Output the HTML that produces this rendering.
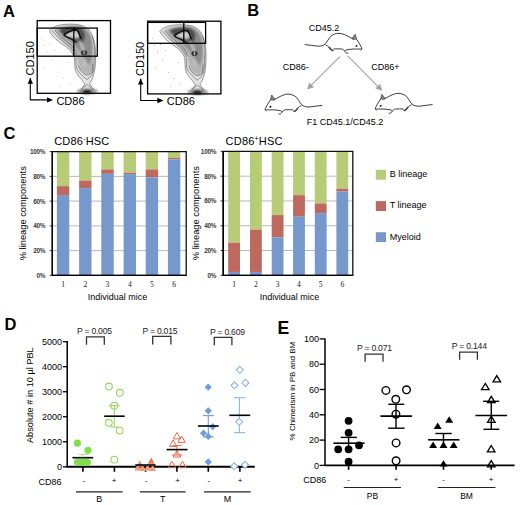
<!DOCTYPE html><html><head><meta charset="utf-8"><style>html,body{margin:0;padding:0;background:#fff;overflow:hidden;width:520px;height:505px;}svg{display:block;}</style></head><body><svg width="520" height="505" viewBox="0 0 520 505"><defs><filter id="blur1" x="-20%" y="-20%" width="140%" height="140%"><feGaussianBlur stdDeviation="0.9"/></filter><filter id="blur05" x="-50%" y="-50%" width="200%" height="200%"><feGaussianBlur stdDeviation="0.5"/></filter></defs><text x="3" y="16.6" font-size="16.5" text-anchor="start" font-weight="bold" fill="#000" font-family='"Liberation Sans", sans-serif' >A</text>
<text x="247.3" y="16.2" font-size="16.5" text-anchor="start" font-weight="bold" fill="#000" font-family='"Liberation Sans", sans-serif' >B</text>
<text x="3.4" y="139.2" font-size="16.5" text-anchor="start" font-weight="bold" fill="#000" font-family='"Liberation Sans", sans-serif' >C</text>
<text x="4.6" y="330.4" font-size="16.5" text-anchor="start" font-weight="bold" fill="#000" font-family='"Liberation Sans", sans-serif' >D</text>
<text x="277.6" y="333.6" font-size="17.5" text-anchor="start" font-weight="bold" fill="#000" font-family='"Liberation Sans", sans-serif' >E</text>
<g transform="translate(0.0,0.0)"><g filter="url(#blur1)"><path d="M49.5,31 C52,27 58,25 66,24.3 C76,23.8 84,25 89,30 C93,35 95.5,44 95.6,54 C95.5,60 95.3,63.5 95.1,66.8 C94.8,69.5 94.3,72 93.7,74.1 C93.1,76 92.5,78 91.9,79.6 C91.2,81 90.5,82.3 89.6,83.2 C90.5,85 91.6,87 94,89.5 L97,92.8 L76,92.8 L81.9,88.7 C83,87 84,85.5 85,84.1 C84.6,83.6 84.2,83 83.7,82.3 C83,81.2 82,80 80.9,78.6 C79.8,77.2 78.5,75.8 77.3,74.1 C76.5,73 76,72 75.5,70.4 C74.8,67 74.6,62 74.4,57 C72,51 67,47 62,44 C57,40.5 52,36 49.5,31 Z" fill="#e2e2e2"/><path d="M54,29.5 C58,26 66,25 76,25 C83,25.5 87.5,28.5 90.5,33 C93,39 94,47 94,56 C94,61 94,65 93.5,69 C92.5,72 91,74 88.5,75 C86,74.5 83.5,73 81.5,71 C79.5,68.5 78,64 77,59 C76,56 75,54 73.5,52 C70,48 66,44 61,39.5 C58,36 55.5,32.5 54,29.5 Z" fill="#b4b4b4"/><path d="M58,30 C62,26.5 72,25.6 79,26.3 C86,27.8 89.8,32 91.3,37 C92.8,43 92.8,51 91.8,57 C91,61 90,63.5 89,65 C87,62 85,59 83,56 C80,51 75,45 70,41 C65,37.5 60.5,34 58,30 Z" fill="#8c8c8c"/><path d="M59,30 C63,27 72,26.2 78,27 C82,28 84.5,31 85,35 C85,39 83.5,42 81.5,43.5 C76,41.5 69,38.5 62,33.5 C60.5,32.5 59.5,31.2 59,30 Z" fill="#4c4c4c"/><path d="M65.5,34.6 L70,32.3 L74,30.8 L77.2,31.5 L79,34 L79.6,37.6 L75.5,38.2 L71,37.5 L67,36.5 Z" fill="#d2d2d2"/><path d="M80,40.5 C82,44 83.5,47 84.3,50.5 L83,51 C82,47.5 80.5,44 78.8,41 Z" fill="#e0e0e0"/><path d="M84.3,57 L85,66 L83.8,66 Z" fill="#dedede"/><ellipse cx="87.3" cy="91.2" rx="10.5" ry="3" fill="#999"/><ellipse cx="87" cy="91.6" rx="4.8" ry="2" fill="#0a0a0a"/></g><g fill="none" stroke="#5a5a5a" stroke-width="0.6"><path d="M49.5,31 C52,27 58,25 66,24.3 C76,23.8 84,25 89,30 C93,35 95.5,44 95.6,54 C95.5,60 95.3,63.5 95.1,66.8 C94.8,69.5 94.3,72 93.7,74.1 C93.1,76 92.5,78 91.9,79.6 C91.2,81 90.5,82.3 89.6,83.2 C90.5,85 91.6,87 93.5,89.5"/><path d="M49.5,31 C52,36 57,40.5 62,44 C67,47 72,51 74.4,57 C74.6,62 74.8,67 75.5,70.4 C76,72 76.5,73 77.3,74.1 C78.5,75.8 79.8,77.2 80.9,78.6 C82,80 83,81.2 83.7,82.3 C84.2,83 84.6,83.6 85,84.1 C84,85.5 83,87 81.5,89"/><path d="M52,30.5 C55.5,35.5 60.5,39.5 65.5,43.5 C70.5,47 74,51 75.5,56.5"/><path d="M54.5,30 C58,34.5 63,38.5 68,42.5 C72.5,46 75.5,50 77,55"/><path d="M75.9,57.7 C76,61 76.1,65 76.4,67.7 C77.5,70 78.5,71.6 80,73.2 C81.2,74.6 82.5,75.8 83.7,76.8 C84.8,77.8 85.9,78.7 86.9,79.6 C88.5,78.5 89.8,77.2 91,75.9 C92,74.5 92.7,73 93.2,71.3 C93.8,68 94.1,65 94.2,62.2 C94.3,59 94.3,57 94.2,55"/><path d="M78.2,65 C79,67 79.8,68.8 80.9,70.4 C82,71.9 83.2,73.1 84.6,74.1 C85.8,74.8 87,75.1 88.2,75 C89.6,74.4 90.8,73.5 91.9,72.3 C92.5,70 92.8,67 92.8,64"/><path d="M80.5,90 C82.5,88 84.8,86 87.2,84.6 C89.3,86 91.3,88 93.5,90"/><path d="M92.3,36 C94.2,42 94.8,48 94.6,56"/></g><ellipse cx="84.1" cy="52.8" rx="3.1" ry="2.5" fill="#333" filter="url(#blur05)"/><ellipse cx="84.1" cy="52.6" rx="0.7" ry="2.3" fill="#bbb" filter="url(#blur05)"/><path d="M63.7,34.7 C66,33.2 69,31.5 73.8,29.8 C75.5,29.8 77,30 77.8,30.8 C79,32.5 80,35 80.8,38.8" fill="none" stroke="#0a0a0a" stroke-width="1.5" stroke-linejoin="round"/><path d="M63.7,34.7 C65,36.8 68,37.8 70.5,38.5 C72.5,39.5 74,41 76.6,42.3" fill="none" stroke="#111" stroke-width="1.3"/><g fill="#aaa"><circle cx="44" cy="45" r="0.5"/><circle cx="47" cy="52" r="0.5"/><circle cx="52" cy="60" r="0.5"/><circle cx="58" cy="72" r="0.5"/><circle cx="63" cy="78" r="0.5"/><circle cx="45" cy="68" r="0.5"/><circle cx="55" cy="50" r="0.5"/><circle cx="68" cy="62" r="0.5"/><circle cx="70" cy="84" r="0.5"/><circle cx="60" cy="86" r="0.5"/><circle cx="42" cy="38" r="0.5"/><circle cx="50" cy="44" r="0.5"/></g></g>
<rect x="37.2" y="20.6" width="73.3" height="72.7" fill="none" stroke="#000" stroke-width="1.3"/>
<rect x="37.2" y="28.1" width="60.099999999999994" height="28.1" fill="none" stroke="#000" stroke-width="1.3"/>
<line x1="73.8" y1="28.1" x2="73.8" y2="56.2" stroke="#000" stroke-width="1.3"/>
<path d="M30.300000000000004,100.30000000000001 L30.300000000000004,78.1 M30.300000000000004,99.9 L47.7,99.9" fill="none" stroke="#000" stroke-width="1.1"/>
<path d="M27.600000000000005,83.80000000000001 L30.300000000000004,77.9 L33.00000000000001,83.80000000000001 Z" fill="#000"/>
<path d="M47.0,97.19999999999999 L53.1,99.9 L47.0,102.6 Z" fill="#000"/>
<text x="56.400000000000006" y="104.80000000000001" font-size="11" text-anchor="start" font-weight="normal" fill="#000" font-family='"Liberation Sans", sans-serif' >CD86</text>
<text x="0" y="0" font-size="11" font-family='"Liberation Sans", sans-serif' transform="translate(34.0,75.4) rotate(-90)">CD150</text>
<g transform="translate(110.39999999999999,0.5999999999999979)"><g filter="url(#blur1)"><path d="M49.5,31 C52,27 58,25 66,24.3 C76,23.8 84,25 89,30 C93,35 95.5,44 95.6,54 C95.5,60 95.3,63.5 95.1,66.8 C94.8,69.5 94.3,72 93.7,74.1 C93.1,76 92.5,78 91.9,79.6 C91.2,81 90.5,82.3 89.6,83.2 C90.5,85 91.6,87 94,89.5 L97,92.8 L76,92.8 L81.9,88.7 C83,87 84,85.5 85,84.1 C84.6,83.6 84.2,83 83.7,82.3 C83,81.2 82,80 80.9,78.6 C79.8,77.2 78.5,75.8 77.3,74.1 C76.5,73 76,72 75.5,70.4 C74.8,67 74.6,62 74.4,57 C72,51 67,47 62,44 C57,40.5 52,36 49.5,31 Z" fill="#e2e2e2"/><path d="M54,29.5 C58,26 66,25 76,25 C83,25.5 87.5,28.5 90.5,33 C93,39 94,47 94,56 C94,61 94,65 93.5,69 C92.5,72 91,74 88.5,75 C86,74.5 83.5,73 81.5,71 C79.5,68.5 78,64 77,59 C76,56 75,54 73.5,52 C70,48 66,44 61,39.5 C58,36 55.5,32.5 54,29.5 Z" fill="#b4b4b4"/><path d="M58,30 C62,26.5 72,25.6 79,26.3 C86,27.8 89.8,32 91.3,37 C92.8,43 92.8,51 91.8,57 C91,61 90,63.5 89,65 C87,62 85,59 83,56 C80,51 75,45 70,41 C65,37.5 60.5,34 58,30 Z" fill="#8c8c8c"/><path d="M59,30 C63,27 72,26.2 78,27 C82,28 84.5,31 85,35 C85,39 83.5,42 81.5,43.5 C76,41.5 69,38.5 62,33.5 C60.5,32.5 59.5,31.2 59,30 Z" fill="#4c4c4c"/><path d="M65.5,34.6 L70,32.3 L74,30.8 L77.2,31.5 L79,34 L79.6,37.6 L75.5,38.2 L71,37.5 L67,36.5 Z" fill="#d2d2d2"/><path d="M80,40.5 C82,44 83.5,47 84.3,50.5 L83,51 C82,47.5 80.5,44 78.8,41 Z" fill="#e0e0e0"/><path d="M84.3,57 L85,66 L83.8,66 Z" fill="#dedede"/><ellipse cx="87.3" cy="91.2" rx="10.5" ry="3" fill="#999"/><ellipse cx="87" cy="91.6" rx="4.8" ry="2" fill="#0a0a0a"/></g><g fill="none" stroke="#5a5a5a" stroke-width="0.6"><path d="M49.5,31 C52,27 58,25 66,24.3 C76,23.8 84,25 89,30 C93,35 95.5,44 95.6,54 C95.5,60 95.3,63.5 95.1,66.8 C94.8,69.5 94.3,72 93.7,74.1 C93.1,76 92.5,78 91.9,79.6 C91.2,81 90.5,82.3 89.6,83.2 C90.5,85 91.6,87 93.5,89.5"/><path d="M49.5,31 C52,36 57,40.5 62,44 C67,47 72,51 74.4,57 C74.6,62 74.8,67 75.5,70.4 C76,72 76.5,73 77.3,74.1 C78.5,75.8 79.8,77.2 80.9,78.6 C82,80 83,81.2 83.7,82.3 C84.2,83 84.6,83.6 85,84.1 C84,85.5 83,87 81.5,89"/><path d="M52,30.5 C55.5,35.5 60.5,39.5 65.5,43.5 C70.5,47 74,51 75.5,56.5"/><path d="M54.5,30 C58,34.5 63,38.5 68,42.5 C72.5,46 75.5,50 77,55"/><path d="M75.9,57.7 C76,61 76.1,65 76.4,67.7 C77.5,70 78.5,71.6 80,73.2 C81.2,74.6 82.5,75.8 83.7,76.8 C84.8,77.8 85.9,78.7 86.9,79.6 C88.5,78.5 89.8,77.2 91,75.9 C92,74.5 92.7,73 93.2,71.3 C93.8,68 94.1,65 94.2,62.2 C94.3,59 94.3,57 94.2,55"/><path d="M78.2,65 C79,67 79.8,68.8 80.9,70.4 C82,71.9 83.2,73.1 84.6,74.1 C85.8,74.8 87,75.1 88.2,75 C89.6,74.4 90.8,73.5 91.9,72.3 C92.5,70 92.8,67 92.8,64"/><path d="M80.5,90 C82.5,88 84.8,86 87.2,84.6 C89.3,86 91.3,88 93.5,90"/><path d="M92.3,36 C94.2,42 94.8,48 94.6,56"/></g><ellipse cx="84.1" cy="52.8" rx="3.1" ry="2.5" fill="#333" filter="url(#blur05)"/><ellipse cx="84.1" cy="52.6" rx="0.7" ry="2.3" fill="#bbb" filter="url(#blur05)"/><path d="M63.7,34.7 C66,33.2 69,31.5 73.8,29.8 C75.5,29.8 77,30 77.8,30.8 C79,32.5 80,35 80.8,38.8" fill="none" stroke="#0a0a0a" stroke-width="1.5" stroke-linejoin="round"/><path d="M63.7,34.7 C65,36.8 68,37.8 70.5,38.5 C72.5,39.5 74,41 76.6,42.3" fill="none" stroke="#111" stroke-width="1.3"/><g fill="#aaa"><circle cx="44" cy="45" r="0.5"/><circle cx="47" cy="52" r="0.5"/><circle cx="52" cy="60" r="0.5"/><circle cx="58" cy="72" r="0.5"/><circle cx="63" cy="78" r="0.5"/><circle cx="45" cy="68" r="0.5"/><circle cx="55" cy="50" r="0.5"/><circle cx="68" cy="62" r="0.5"/><circle cx="70" cy="84" r="0.5"/><circle cx="60" cy="86" r="0.5"/><circle cx="42" cy="38" r="0.5"/><circle cx="50" cy="44" r="0.5"/></g></g>
<rect x="147.6" y="21.2" width="73.3" height="72.7" fill="none" stroke="#000" stroke-width="1.3"/>
<rect x="147.6" y="22.4" width="58.0" height="20.9" fill="none" stroke="#000" stroke-width="1.3"/>
<line x1="183.8" y1="22.4" x2="183.8" y2="43.3" stroke="#000" stroke-width="1.3"/>
<path d="M140.7,100.9 L140.7,78.7 M140.7,100.5 L158.1,100.5" fill="none" stroke="#000" stroke-width="1.1"/>
<path d="M138.0,84.4 L140.7,78.5 L143.39999999999998,84.4 Z" fill="#000"/>
<path d="M157.4,97.8 L163.5,100.5 L157.4,103.2 Z" fill="#000"/>
<text x="166.79999999999998" y="105.4" font-size="11" text-anchor="start" font-weight="normal" fill="#000" font-family='"Liberation Sans", sans-serif' >CD86</text>
<text x="0" y="0" font-size="11" font-family='"Liberation Sans", sans-serif' transform="translate(144.4,76.0) rotate(-90)">CD150</text>
<text x="308.7" y="30.8" font-size="9" text-anchor="start" font-weight="normal" fill="#000" font-family='"Liberation Sans", sans-serif' >CD45.2</text>
<text x="282.7" y="69.8" font-size="9" text-anchor="start" font-weight="normal" fill="#000" font-family='"Liberation Sans", sans-serif' >CD86-</text>
<text x="371.3" y="69.8" font-size="9" text-anchor="start" font-weight="normal" fill="#000" font-family='"Liberation Sans", sans-serif' >CD86+</text>
<text x="306.7" y="125.0" font-size="9" text-anchor="start" font-weight="normal" fill="#000" font-family='"Liberation Sans", sans-serif' >F1 CD45.1/CD45.2</text>
<g stroke="#a2a2a2" stroke-width="1.1" fill="none"><line x1="339.8" y1="56.7" x2="309.5" y2="86.8"/><line x1="347.7" y1="55.8" x2="379.8" y2="88.3"/></g>
<path d="M307.00,89.40 L309.20,82.40 L314.00,87.22 Z" fill="#a2a2a2"/>
<path d="M382.30,90.80 L375.31,88.57 L380.15,83.79 Z" fill="#a2a2a2"/>
<g transform=""><path d="M305,44.6 C309,45 314,45.8 318,46.2 C321,46.3 323.5,45.5 325.5,43.8 C327.5,41.5 328.5,38.5 330.5,36.5 C333,34.3 336,33.3 339,33.3 C342.5,33.5 346,35 349.5,37.2 C350.8,37.9 351.8,38.3 352.8,38.4 M356,38.4 C357.5,40.5 359.5,43.5 360.9,46.4 C361.5,47.5 361.9,48.4 361.8,49 C360,49.2 357.5,48.9 354.3,49 C351.5,49.1 349,49.4 346.3,49.9 C345,50.3 344.5,51 345.5,52.3 C346.3,53.2 347.2,53.6 348.1,53.2 M344.5,50.8 C343.5,49.8 342.5,49.2 341.9,49 C339,48.8 336,48.8 333.9,49 M326,45 C327,45.4 328,46.2 328.6,46.8 C329.5,48 330.3,49.2 331,50 C331.8,50.8 332.8,51 333.5,50.5" fill="none" stroke="#1a1a1a" stroke-width="0.85" stroke-linecap="round" stroke-linejoin="round"/><circle cx="356.5" cy="45.9" r="0.95" fill="#000"/><path d="M351.8,38.9 L355.2,34.2 L356.4,38.6 C355,39.6 353.2,39.6 351.8,38.9 Z" fill="#888" stroke="#222" stroke-width="0.6"/><path d="M329,47 C330,48.5 331,50 332.8,50.6" stroke="#444" stroke-width="1.5" fill="none"/><path d="M361.8,49 C361.5,49.8 361,50.2 360.3,50.3" stroke="#333" stroke-width="0.6" fill="none"/></g>
<g transform="translate(626.9,60.8) scale(-1,1)"><path d="M305,44.6 C309,45 314,45.8 318,46.2 C321,46.3 323.5,45.5 325.5,43.8 C327.5,41.5 328.5,38.5 330.5,36.5 C333,34.3 336,33.3 339,33.3 C342.5,33.5 346,35 349.5,37.2 C350.8,37.9 351.8,38.3 352.8,38.4 M356,38.4 C357.5,40.5 359.5,43.5 360.9,46.4 C361.5,47.5 361.9,48.4 361.8,49 C360,49.2 357.5,48.9 354.3,49 C351.5,49.1 349,49.4 346.3,49.9 C345,50.3 344.5,51 345.5,52.3 C346.3,53.2 347.2,53.6 348.1,53.2 M344.5,50.8 C343.5,49.8 342.5,49.2 341.9,49 C339,48.8 336,48.8 333.9,49 M326,45 C327,45.4 328,46.2 328.6,46.8 C329.5,48 330.3,49.2 331,50 C331.8,50.8 332.8,51 333.5,50.5" fill="none" stroke="#1a1a1a" stroke-width="0.85" stroke-linecap="round" stroke-linejoin="round"/><circle cx="356.5" cy="45.9" r="0.95" fill="#000"/><path d="M351.8,38.9 L355.2,34.2 L356.4,38.6 C355,39.6 353.2,39.6 351.8,38.9 Z" fill="#888" stroke="#222" stroke-width="0.6"/><path d="M329,47 C330,48.5 331,50 332.8,50.6" stroke="#444" stroke-width="1.5" fill="none"/><path d="M361.8,49 C361.5,49.8 361,50.2 360.3,50.3" stroke="#333" stroke-width="0.6" fill="none"/></g>
<g transform="translate(737.1,60.0) scale(-1,1)"><path d="M305,44.6 C309,45 314,45.8 318,46.2 C321,46.3 323.5,45.5 325.5,43.8 C327.5,41.5 328.5,38.5 330.5,36.5 C333,34.3 336,33.3 339,33.3 C342.5,33.5 346,35 349.5,37.2 C350.8,37.9 351.8,38.3 352.8,38.4 M356,38.4 C357.5,40.5 359.5,43.5 360.9,46.4 C361.5,47.5 361.9,48.4 361.8,49 C360,49.2 357.5,48.9 354.3,49 C351.5,49.1 349,49.4 346.3,49.9 C345,50.3 344.5,51 345.5,52.3 C346.3,53.2 347.2,53.6 348.1,53.2 M344.5,50.8 C343.5,49.8 342.5,49.2 341.9,49 C339,48.8 336,48.8 333.9,49 M326,45 C327,45.4 328,46.2 328.6,46.8 C329.5,48 330.3,49.2 331,50 C331.8,50.8 332.8,51 333.5,50.5" fill="none" stroke="#1a1a1a" stroke-width="0.85" stroke-linecap="round" stroke-linejoin="round"/><circle cx="356.5" cy="45.9" r="0.95" fill="#000"/><path d="M351.8,38.9 L355.2,34.2 L356.4,38.6 C355,39.6 353.2,39.6 351.8,38.9 Z" fill="#888" stroke="#222" stroke-width="0.6"/><path d="M329,47 C330,48.5 331,50 332.8,50.6" stroke="#444" stroke-width="1.5" fill="none"/><path d="M361.8,49 C361.5,49.8 361,50.2 360.3,50.3" stroke="#333" stroke-width="0.6" fill="none"/></g>
<line x1="52.3" y1="250.64" x2="186.2" y2="250.64" stroke="#a6a6a6" stroke-width="0.8"/>
<line x1="52.3" y1="225.88" x2="186.2" y2="225.88" stroke="#a6a6a6" stroke-width="0.8"/>
<line x1="52.3" y1="201.12" x2="186.2" y2="201.12" stroke="#a6a6a6" stroke-width="0.8"/>
<line x1="52.3" y1="176.36" x2="186.2" y2="176.36" stroke="#a6a6a6" stroke-width="0.8"/>
<rect x="56.9" y="151.6" width="12.4" height="34.54" fill="#b8cb77"/>
<rect x="56.9" y="186.14" width="12.4" height="8.91" fill="#bd695f"/>
<rect x="56.9" y="195.05" width="12.4" height="80.35" fill="#7698cc"/>
<text x="63.1" y="287.29999999999995" font-size="7.6" text-anchor="middle" font-weight="normal" fill="#222" font-family='"Liberation Serif", serif' >1</text>
<rect x="79.1" y="151.6" width="12.4" height="28.97" fill="#b8cb77"/>
<rect x="79.1" y="180.57" width="12.4" height="7.55" fill="#bd695f"/>
<rect x="79.1" y="188.12" width="12.4" height="87.28" fill="#7698cc"/>
<text x="85.3" y="287.29999999999995" font-size="7.6" text-anchor="middle" font-weight="normal" fill="#222" font-family='"Liberation Serif", serif' >2</text>
<rect x="101.3" y="151.6" width="12.4" height="17.83" fill="#b8cb77"/>
<rect x="101.3" y="169.43" width="12.4" height="4.46" fill="#bd695f"/>
<rect x="101.3" y="173.88" width="12.4" height="101.52" fill="#7698cc"/>
<text x="107.5" y="287.29999999999995" font-size="7.6" text-anchor="middle" font-weight="normal" fill="#222" font-family='"Liberation Serif", serif' >3</text>
<rect x="123.6" y="151.6" width="12.4" height="21.17" fill="#b8cb77"/>
<rect x="123.6" y="172.77" width="12.4" height="1.36" fill="#bd695f"/>
<rect x="123.6" y="174.13" width="12.4" height="101.27" fill="#7698cc"/>
<text x="129.79999999999998" y="287.29999999999995" font-size="7.6" text-anchor="middle" font-weight="normal" fill="#222" font-family='"Liberation Serif", serif' >4</text>
<rect x="145.7" y="151.6" width="12.4" height="17.83" fill="#b8cb77"/>
<rect x="145.7" y="169.43" width="12.4" height="7.80" fill="#bd695f"/>
<rect x="145.7" y="177.23" width="12.4" height="98.17" fill="#7698cc"/>
<text x="151.89999999999998" y="287.29999999999995" font-size="7.6" text-anchor="middle" font-weight="normal" fill="#222" font-family='"Liberation Serif", serif' >5</text>
<rect x="167.9" y="151.6" width="12.4" height="6.31" fill="#b8cb77"/>
<rect x="167.9" y="157.91" width="12.4" height="1.49" fill="#bd695f"/>
<rect x="167.9" y="159.40" width="12.4" height="116.00" fill="#7698cc"/>
<text x="174.1" y="287.29999999999995" font-size="7.6" text-anchor="middle" font-weight="normal" fill="#222" font-family='"Liberation Serif", serif' >6</text>
<path d="M52.3,151.6 L186.2,151.6 L186.2,275.4 L52.3,275.4 Z" fill="none" stroke="#111" stroke-width="1.3"/>
<line x1="52.3" y1="151.6" x2="52.3" y2="275.4" stroke="#000" stroke-width="1.4"/>
<line x1="52.3" y1="275.4" x2="186.2" y2="275.4" stroke="#000" stroke-width="1.2"/>
<line x1="49.699999999999996" y1="275.40" x2="52.3" y2="275.40" stroke="#000" stroke-width="0.8"/>
<text x="45.3" y="277.79999999999995" font-size="6.4" text-anchor="end" font-weight="bold" fill="#3a3a3a" font-family='"Liberation Sans", sans-serif' letter-spacing="-0.25">0%</text>
<line x1="49.699999999999996" y1="250.64" x2="52.3" y2="250.64" stroke="#000" stroke-width="0.8"/>
<text x="45.3" y="253.04" font-size="6.4" text-anchor="end" font-weight="bold" fill="#3a3a3a" font-family='"Liberation Sans", sans-serif' letter-spacing="-0.25">20%</text>
<line x1="49.699999999999996" y1="225.88" x2="52.3" y2="225.88" stroke="#000" stroke-width="0.8"/>
<text x="45.3" y="228.28" font-size="6.4" text-anchor="end" font-weight="bold" fill="#3a3a3a" font-family='"Liberation Sans", sans-serif' letter-spacing="-0.25">40%</text>
<line x1="49.699999999999996" y1="201.12" x2="52.3" y2="201.12" stroke="#000" stroke-width="0.8"/>
<text x="45.3" y="203.51999999999998" font-size="6.4" text-anchor="end" font-weight="bold" fill="#3a3a3a" font-family='"Liberation Sans", sans-serif' letter-spacing="-0.25">60%</text>
<line x1="49.699999999999996" y1="176.36" x2="52.3" y2="176.36" stroke="#000" stroke-width="0.8"/>
<text x="45.3" y="178.76" font-size="6.4" text-anchor="end" font-weight="bold" fill="#3a3a3a" font-family='"Liberation Sans", sans-serif' letter-spacing="-0.25">80%</text>
<line x1="49.699999999999996" y1="151.60" x2="52.3" y2="151.60" stroke="#000" stroke-width="0.8"/>
<text x="45.3" y="154.0" font-size="6.4" text-anchor="end" font-weight="bold" fill="#3a3a3a" font-family='"Liberation Sans", sans-serif' letter-spacing="-0.25">100%</text>
<text x="54.2" y="145.1" font-size="11" letter-spacing="0.2" font-family='"Liberation Sans", sans-serif'>CD86<tspan font-size="7" dy="-4">-</tspan><tspan dy="4">HSC</tspan></text>
<text x="0" y="0" font-size="9.3" font-family='"Liberation Sans", sans-serif' text-anchor="middle" transform="translate(26.3,213.2) rotate(-90)">% lineage components</text>
<text x="117.4" y="300.2" font-size="9" text-anchor="middle" font-weight="normal" fill="#000" font-family='"Liberation Sans", sans-serif' >Individual mice</text>
<line x1="223.2" y1="250.52" x2="352.8" y2="250.52" stroke="#a6a6a6" stroke-width="0.8"/>
<line x1="223.2" y1="225.74" x2="352.8" y2="225.74" stroke="#a6a6a6" stroke-width="0.8"/>
<line x1="223.2" y1="200.96" x2="352.8" y2="200.96" stroke="#a6a6a6" stroke-width="0.8"/>
<line x1="223.2" y1="176.18" x2="352.8" y2="176.18" stroke="#a6a6a6" stroke-width="0.8"/>
<rect x="228.2" y="151.4" width="11.8" height="91.31" fill="#b8cb77"/>
<rect x="228.2" y="242.71" width="11.8" height="29.24" fill="#bd695f"/>
<rect x="228.2" y="271.95" width="11.8" height="3.35" fill="#7698cc"/>
<text x="234.1" y="287.2" font-size="7.6" text-anchor="middle" font-weight="normal" fill="#222" font-family='"Liberation Serif", serif' >1</text>
<rect x="250.0" y="151.4" width="11.8" height="78.30" fill="#b8cb77"/>
<rect x="250.0" y="229.70" width="11.8" height="42.25" fill="#bd695f"/>
<rect x="250.0" y="271.95" width="11.8" height="3.35" fill="#7698cc"/>
<text x="255.9" y="287.2" font-size="7.6" text-anchor="middle" font-weight="normal" fill="#222" font-family='"Liberation Serif", serif' >2</text>
<rect x="271.7" y="151.4" width="11.8" height="63.68" fill="#b8cb77"/>
<rect x="271.7" y="215.08" width="11.8" height="22.30" fill="#bd695f"/>
<rect x="271.7" y="237.39" width="11.8" height="37.91" fill="#7698cc"/>
<text x="277.59999999999997" y="287.2" font-size="7.6" text-anchor="middle" font-weight="normal" fill="#222" font-family='"Liberation Serif", serif' >3</text>
<rect x="293.1" y="151.4" width="11.8" height="43.74" fill="#b8cb77"/>
<rect x="293.1" y="195.14" width="11.8" height="21.56" fill="#bd695f"/>
<rect x="293.1" y="216.70" width="11.8" height="58.60" fill="#7698cc"/>
<text x="299.0" y="287.2" font-size="7.6" text-anchor="middle" font-weight="normal" fill="#222" font-family='"Liberation Serif", serif' >4</text>
<rect x="314.8" y="151.4" width="11.8" height="52.04" fill="#b8cb77"/>
<rect x="314.8" y="203.44" width="11.8" height="9.66" fill="#bd695f"/>
<rect x="314.8" y="213.10" width="11.8" height="62.20" fill="#7698cc"/>
<text x="320.7" y="287.2" font-size="7.6" text-anchor="middle" font-weight="normal" fill="#222" font-family='"Liberation Serif", serif' >5</text>
<rect x="336.4" y="151.4" width="11.8" height="37.29" fill="#b8cb77"/>
<rect x="336.4" y="188.69" width="11.8" height="2.85" fill="#bd695f"/>
<rect x="336.4" y="191.54" width="11.8" height="83.76" fill="#7698cc"/>
<text x="342.29999999999995" y="287.2" font-size="7.6" text-anchor="middle" font-weight="normal" fill="#222" font-family='"Liberation Serif", serif' >6</text>
<path d="M223.2,151.4 L352.8,151.4 L352.8,275.3 L223.2,275.3 Z" fill="none" stroke="#111" stroke-width="1.3"/>
<line x1="223.2" y1="151.4" x2="223.2" y2="275.3" stroke="#000" stroke-width="1.4"/>
<line x1="223.2" y1="275.3" x2="352.8" y2="275.3" stroke="#000" stroke-width="1.2"/>
<line x1="220.6" y1="275.30" x2="223.2" y2="275.30" stroke="#000" stroke-width="0.8"/>
<text x="216.2" y="277.7" font-size="6.4" text-anchor="end" font-weight="bold" fill="#3a3a3a" font-family='"Liberation Sans", sans-serif' letter-spacing="-0.25">0%</text>
<line x1="220.6" y1="250.52" x2="223.2" y2="250.52" stroke="#000" stroke-width="0.8"/>
<text x="216.2" y="252.92000000000002" font-size="6.4" text-anchor="end" font-weight="bold" fill="#3a3a3a" font-family='"Liberation Sans", sans-serif' letter-spacing="-0.25">20%</text>
<line x1="220.6" y1="225.74" x2="223.2" y2="225.74" stroke="#000" stroke-width="0.8"/>
<text x="216.2" y="228.14000000000001" font-size="6.4" text-anchor="end" font-weight="bold" fill="#3a3a3a" font-family='"Liberation Sans", sans-serif' letter-spacing="-0.25">40%</text>
<line x1="220.6" y1="200.96" x2="223.2" y2="200.96" stroke="#000" stroke-width="0.8"/>
<text x="216.2" y="203.36" font-size="6.4" text-anchor="end" font-weight="bold" fill="#3a3a3a" font-family='"Liberation Sans", sans-serif' letter-spacing="-0.25">60%</text>
<line x1="220.6" y1="176.18" x2="223.2" y2="176.18" stroke="#000" stroke-width="0.8"/>
<text x="216.2" y="178.58" font-size="6.4" text-anchor="end" font-weight="bold" fill="#3a3a3a" font-family='"Liberation Sans", sans-serif' letter-spacing="-0.25">80%</text>
<line x1="220.6" y1="151.40" x2="223.2" y2="151.40" stroke="#000" stroke-width="0.8"/>
<text x="216.2" y="153.8" font-size="6.4" text-anchor="end" font-weight="bold" fill="#3a3a3a" font-family='"Liberation Sans", sans-serif' letter-spacing="-0.25">100%</text>
<text x="225.6" y="145.4" font-size="11" letter-spacing="0.2" font-family='"Liberation Sans", sans-serif'>CD86<tspan font-size="7" dy="-4">+</tspan><tspan dy="4">HSC</tspan></text>
<text x="0" y="0" font-size="9.3" font-family='"Liberation Sans", sans-serif' text-anchor="middle" transform="translate(199.0,213.1) rotate(-90)">% lineage components</text>
<text x="289.6" y="300.2" font-size="9" text-anchor="middle" font-weight="normal" fill="#000" font-family='"Liberation Sans", sans-serif' >Individual mice</text>
<rect x="375.8" y="169.8" width="10.2" height="9.9" fill="#b8cb77"/>
<text x="389.7" y="177.10000000000002" font-size="9" text-anchor="start" font-weight="normal" fill="#000" font-family='"Liberation Sans", sans-serif' >B lineage</text>
<rect x="375.8" y="201.1" width="10.2" height="9.9" fill="#bd695f"/>
<text x="389.7" y="208.4" font-size="9" text-anchor="start" font-weight="normal" fill="#000" font-family='"Liberation Sans", sans-serif' >T lineage</text>
<rect x="375.8" y="232.2" width="10.2" height="9.9" fill="#7698cc"/>
<text x="389.7" y="239.5" font-size="9" text-anchor="start" font-weight="normal" fill="#000" font-family='"Liberation Sans", sans-serif' >Myeloid</text>
<line x1="67.2" y1="341.0" x2="67.2" y2="467.5" stroke="#000" stroke-width="1.5"/>
<line x1="66.5" y1="466.8" x2="254.8" y2="466.8" stroke="#000" stroke-width="1.9"/>
<line x1="62.9" y1="466.8" x2="67.2" y2="466.8" stroke="#000" stroke-width="1.3"/>
<text x="62.0" y="470.0" font-size="9" text-anchor="end" font-weight="normal" fill="#000" font-family='"Liberation Sans", sans-serif' >0</text>
<line x1="62.9" y1="441.78" x2="67.2" y2="441.78" stroke="#000" stroke-width="1.3"/>
<text x="62.0" y="444.98" font-size="9" text-anchor="end" font-weight="normal" fill="#000" font-family='"Liberation Sans", sans-serif' >1000</text>
<line x1="62.9" y1="416.76" x2="67.2" y2="416.76" stroke="#000" stroke-width="1.3"/>
<text x="62.0" y="419.96" font-size="9" text-anchor="end" font-weight="normal" fill="#000" font-family='"Liberation Sans", sans-serif' >2000</text>
<line x1="62.9" y1="391.74" x2="67.2" y2="391.74" stroke="#000" stroke-width="1.3"/>
<text x="62.0" y="394.94" font-size="9" text-anchor="end" font-weight="normal" fill="#000" font-family='"Liberation Sans", sans-serif' >3000</text>
<line x1="62.9" y1="366.72" x2="67.2" y2="366.72" stroke="#000" stroke-width="1.3"/>
<text x="62.0" y="369.92" font-size="9" text-anchor="end" font-weight="normal" fill="#000" font-family='"Liberation Sans", sans-serif' >4000</text>
<line x1="62.9" y1="341.7" x2="67.2" y2="341.7" stroke="#000" stroke-width="1.3"/>
<text x="62.0" y="344.9" font-size="9" text-anchor="end" font-weight="normal" fill="#000" font-family='"Liberation Sans", sans-serif' >5000</text>
<line x1="82.9" y1="466.8" x2="82.9" y2="471.8" stroke="#000" stroke-width="1.6"/>
<line x1="114.4" y1="466.8" x2="114.4" y2="471.8" stroke="#000" stroke-width="1.6"/>
<line x1="145.6" y1="466.8" x2="145.6" y2="471.8" stroke="#000" stroke-width="1.6"/>
<line x1="176.9" y1="466.8" x2="176.9" y2="471.8" stroke="#000" stroke-width="1.6"/>
<line x1="208.3" y1="466.8" x2="208.3" y2="471.8" stroke="#000" stroke-width="1.6"/>
<line x1="239.9" y1="466.8" x2="239.9" y2="471.8" stroke="#000" stroke-width="1.6"/>
<text x="38.6" y="484.5" font-size="9" text-anchor="start" font-weight="normal" fill="#000" font-family='"Liberation Sans", sans-serif' >CD86</text>
<text x="84.2" y="483.4" font-size="8" text-anchor="middle" font-weight="normal" fill="#000" font-family='"Liberation Sans", sans-serif' >-</text>
<text x="114.2" y="483.4" font-size="8" text-anchor="middle" font-weight="normal" fill="#000" font-family='"Liberation Sans", sans-serif' >+</text>
<text x="146.4" y="483.4" font-size="8" text-anchor="middle" font-weight="normal" fill="#000" font-family='"Liberation Sans", sans-serif' >-</text>
<text x="177.6" y="483.4" font-size="8" text-anchor="middle" font-weight="normal" fill="#000" font-family='"Liberation Sans", sans-serif' >+</text>
<text x="208.9" y="483.4" font-size="8" text-anchor="middle" font-weight="normal" fill="#000" font-family='"Liberation Sans", sans-serif' >-</text>
<text x="240.2" y="483.4" font-size="8" text-anchor="middle" font-weight="normal" fill="#000" font-family='"Liberation Sans", sans-serif' >+</text>
<line x1="76" y1="491.9" x2="122.6" y2="491.9" stroke="#222" stroke-width="1.2"/>
<text x="99.3" y="502.4" font-size="9" text-anchor="middle" font-weight="normal" fill="#000" font-family='"Liberation Sans", sans-serif' >B</text>
<line x1="139.8" y1="491.9" x2="185.6" y2="491.9" stroke="#222" stroke-width="1.2"/>
<text x="162.7" y="502.4" font-size="9" text-anchor="middle" font-weight="normal" fill="#000" font-family='"Liberation Sans", sans-serif' >T</text>
<line x1="204.1" y1="491.9" x2="250.7" y2="491.9" stroke="#222" stroke-width="1.2"/>
<text x="227.39999999999998" y="502.4" font-size="9" text-anchor="middle" font-weight="normal" fill="#000" font-family='"Liberation Sans", sans-serif' >M</text>
<text x="0" y="0" font-size="9.2" font-family='"Liberation Sans", sans-serif' text-anchor="middle" transform="translate(33.4,395.2) rotate(-90)">Absolute # in 10 µl PBL</text>
<path d="M86.5,344.8 L86.5,336.8 L104.3,336.8 L104.3,344.8" fill="none" stroke="#333" stroke-width="1.3"/>
<text x="76.9" y="334.4" font-size="8.6" text-anchor="start" font-weight="normal" fill="#1a1a1a" font-family='"Liberation Sans", sans-serif' letter-spacing="-0.22">P = 0.005</text>
<path d="M152.7,344.6 L152.7,336.3 L170.9,336.3 L170.9,344.6" fill="none" stroke="#333" stroke-width="1.3"/>
<text x="142.39999999999998" y="333.8" font-size="8.6" text-anchor="start" font-weight="normal" fill="#1a1a1a" font-family='"Liberation Sans", sans-serif' letter-spacing="-0.22">P = 0.015</text>
<path d="M214.3,345.3 L214.3,337.4 L231.9,337.4 L231.9,345.3" fill="none" stroke="#333" stroke-width="1.3"/>
<text x="209.89999999999998" y="335.2" font-size="8.6" text-anchor="start" font-weight="normal" fill="#1a1a1a" font-family='"Liberation Sans", sans-serif' letter-spacing="-0.22">P = 0.609</text>
<circle cx="77.4" cy="443.2" r="3.6" fill="#80e04a" stroke="none" stroke-width="0"/>
<circle cx="88.0" cy="450.3" r="3.6" fill="#80e04a" stroke="none" stroke-width="0"/>
<circle cx="77.5" cy="462.0" r="3.6" fill="#80e04a" stroke="none" stroke-width="0"/>
<circle cx="80.8" cy="462.3" r="3.6" fill="#80e04a" stroke="none" stroke-width="0"/>
<circle cx="84.2" cy="462.0" r="3.6" fill="#80e04a" stroke="none" stroke-width="0"/>
<circle cx="87.3" cy="462.3" r="3.6" fill="#80e04a" stroke="none" stroke-width="0"/>
<line x1="72.5" y1="457.7" x2="93.2" y2="457.7" stroke="#000" stroke-width="1.6"/>
<line x1="78.5" y1="454.4" x2="87.5" y2="454.4" stroke="#9bd870" stroke-width="0.8"/>
<line x1="82.9" y1="454.4" x2="82.9" y2="457.7" stroke="#9bd870" stroke-width="0.8"/>
<circle cx="108.9" cy="386.5" r="3.4" fill="none" stroke="#96d65a" stroke-width="1.1"/>
<circle cx="119.8" cy="392.8" r="3.4" fill="none" stroke="#96d65a" stroke-width="1.1"/>
<circle cx="114.3" cy="405.7" r="3.4" fill="none" stroke="#96d65a" stroke-width="1.1"/>
<circle cx="108.8" cy="422.8" r="3.4" fill="none" stroke="#96d65a" stroke-width="1.1"/>
<circle cx="119.7" cy="430.6" r="3.4" fill="none" stroke="#96d65a" stroke-width="1.1"/>
<circle cx="114.3" cy="459.6" r="3.4" fill="none" stroke="#96d65a" stroke-width="1.1"/>
<line x1="114.3" y1="405.7" x2="114.3" y2="427.0" stroke="#96d65a" stroke-width="1.0"/>
<line x1="108.8" y1="405.7" x2="119.8" y2="405.7" stroke="#96d65a" stroke-width="1.0"/>
<line x1="109.5" y1="427.0" x2="119.2" y2="427.0" stroke="#96d65a" stroke-width="1.0"/>
<line x1="104.1" y1="416.2" x2="124.7" y2="416.2" stroke="#000" stroke-width="1.6"/>
<path d="M137.8,464.3 L141.20000000000002,470.6 L134.4,470.6 Z" fill="#f29a80" stroke="none" stroke-width="0" stroke-linejoin="miter"/>
<path d="M142.6,464.6 L146.0,470.90000000000003 L139.2,470.90000000000003 Z" fill="#f29a80" stroke="none" stroke-width="0" stroke-linejoin="miter"/>
<path d="M147.6,464.3 L151.0,470.6 L144.2,470.6 Z" fill="#f29a80" stroke="none" stroke-width="0" stroke-linejoin="miter"/>
<path d="M152.6,464.6 L156.0,470.90000000000003 L149.2,470.90000000000003 Z" fill="#f29a80" stroke="none" stroke-width="0" stroke-linejoin="miter"/>
<path d="M139.8,460.5 L143.20000000000002,466.8 L136.4,466.8 Z" fill="#f08a6c" stroke="none" stroke-width="0" stroke-linejoin="miter"/>
<path d="M151.2,457.4 L154.6,463.7 L147.79999999999998,463.7 Z" fill="#ee7a58" stroke="none" stroke-width="0" stroke-linejoin="miter"/>
<line x1="135.3" y1="465.0" x2="155.6" y2="465.0" stroke="#000" stroke-width="1.6"/>
<path d="M176.9,432.5 L180.6,438.9 L173.20000000000002,438.9 Z" fill="none" stroke="#e46a4a" stroke-width="1.0" stroke-linejoin="miter"/>
<path d="M181.6,436.0 L185.29999999999998,442.4 L177.9,442.4 Z" fill="none" stroke="#e46a4a" stroke-width="1.0" stroke-linejoin="miter"/>
<path d="M173.1,440.0 L176.79999999999998,446.4 L169.4,446.4 Z" fill="none" stroke="#e46a4a" stroke-width="1.0" stroke-linejoin="miter"/>
<path d="M176.9,450.6 L180.6,457.0 L173.20000000000002,457.0 Z" fill="none" stroke="#e46a4a" stroke-width="1.0" stroke-linejoin="miter"/>
<path d="M171.9,461.3 L175.6,467.7 L168.20000000000002,467.7 Z" fill="none" stroke="#e46a4a" stroke-width="1.0" stroke-linejoin="miter"/>
<path d="M182.5,461.3 L186.2,467.7 L178.8,467.7 Z" fill="none" stroke="#e46a4a" stroke-width="1.0" stroke-linejoin="miter"/>
<line x1="176.9" y1="445.6" x2="176.9" y2="455.0" stroke="#e46a4a" stroke-width="1.0"/>
<line x1="172.5" y1="445.6" x2="181.5" y2="445.6" stroke="#e46a4a" stroke-width="1.0"/>
<line x1="171.9" y1="455.0" x2="182.5" y2="455.0" stroke="#e46a4a" stroke-width="1.0"/>
<line x1="166.6" y1="449.6" x2="187.5" y2="449.6" stroke="#000" stroke-width="1.6"/>
<line x1="208.3" y1="415.6" x2="208.3" y2="437.0" stroke="#6e9ce0" stroke-width="1.1"/>
<line x1="202.9" y1="415.6" x2="213.9" y2="415.6" stroke="#6e9ce0" stroke-width="1.1"/>
<line x1="202.9" y1="437.0" x2="213.9" y2="437.0" stroke="#6e9ce0" stroke-width="1.1"/>
<path d="M208.2,383.59999999999997 L211.79999999999998,387.2 L208.2,390.8 L204.6,387.2 Z" fill="#6e9ce0" stroke="none" stroke-width="0"/>
<path d="M208.3,407.2 L211.9,410.8 L208.3,414.40000000000003 L204.70000000000002,410.8 Z" fill="#6e9ce0" stroke="none" stroke-width="0"/>
<path d="M212.8,423.0 L216.4,426.6 L212.8,430.20000000000005 L209.20000000000002,426.6 Z" fill="#6e9ce0" stroke="none" stroke-width="0"/>
<path d="M203.5,429.59999999999997 L207.1,433.2 L203.5,436.8 L199.9,433.2 Z" fill="#6e9ce0" stroke="none" stroke-width="0"/>
<path d="M208.3,432.79999999999995 L211.9,436.4 L208.3,440.0 L204.70000000000002,436.4 Z" fill="#6e9ce0" stroke="none" stroke-width="0"/>
<path d="M208.3,458.29999999999995 L211.9,461.9 L208.3,465.5 L204.70000000000002,461.9 Z" fill="#6e9ce0" stroke="none" stroke-width="0"/>
<line x1="197.9" y1="426.0" x2="218.7" y2="426.0" stroke="#000" stroke-width="1.6"/>
<line x1="239.4" y1="397.7" x2="239.4" y2="432.6" stroke="#8ab6e8" stroke-width="1.1"/>
<line x1="233.9" y1="397.7" x2="245.4" y2="397.7" stroke="#8ab6e8" stroke-width="1.1"/>
<line x1="234.0" y1="432.6" x2="245.0" y2="432.6" stroke="#8ab6e8" stroke-width="1.1"/>
<path d="M239.8,366.3 L243.3,369.8 L239.8,373.3 L236.3,369.8 Z" fill="#fff" stroke="#8ab6e8" stroke-width="1.1"/>
<path d="M234.5,381.8 L238.0,385.3 L234.5,388.8 L231.0,385.3 Z" fill="#fff" stroke="#8ab6e8" stroke-width="1.1"/>
<path d="M245.4,379.4 L248.9,382.9 L245.4,386.4 L241.9,382.9 Z" fill="#fff" stroke="#8ab6e8" stroke-width="1.1"/>
<path d="M239.2,418.3 L242.7,421.8 L239.2,425.3 L235.7,421.8 Z" fill="#fff" stroke="#8ab6e8" stroke-width="1.1"/>
<path d="M234.2,462.8 L237.7,466.3 L234.2,469.8 L230.7,466.3 Z" fill="#fff" stroke="#8ab6e8" stroke-width="1.1"/>
<path d="M245.0,461.3 L248.5,464.8 L245.0,468.3 L241.5,464.8 Z" fill="#fff" stroke="#8ab6e8" stroke-width="1.1"/>
<line x1="229.3" y1="415.3" x2="250.2" y2="415.3" stroke="#000" stroke-width="1.6"/>
<line x1="325.0" y1="338.4" x2="325.0" y2="466.09999999999997" stroke="#000" stroke-width="1.5"/>
<line x1="324.3" y1="465.4" x2="514.6" y2="465.4" stroke="#000" stroke-width="1.9"/>
<line x1="319.6" y1="465.4" x2="325.0" y2="465.4" stroke="#000" stroke-width="1.3"/>
<text x="319.0" y="468.6" font-size="9" text-anchor="end" font-weight="normal" fill="#000" font-family='"Liberation Sans", sans-serif' >0</text>
<line x1="319.6" y1="440.1" x2="325.0" y2="440.1" stroke="#000" stroke-width="1.3"/>
<text x="319.0" y="443.3" font-size="9" text-anchor="end" font-weight="normal" fill="#000" font-family='"Liberation Sans", sans-serif' >20</text>
<line x1="319.6" y1="414.8" x2="325.0" y2="414.8" stroke="#000" stroke-width="1.3"/>
<text x="319.0" y="418.0" font-size="9" text-anchor="end" font-weight="normal" fill="#000" font-family='"Liberation Sans", sans-serif' >40</text>
<line x1="319.6" y1="389.5" x2="325.0" y2="389.5" stroke="#000" stroke-width="1.3"/>
<text x="319.0" y="392.7" font-size="9" text-anchor="end" font-weight="normal" fill="#000" font-family='"Liberation Sans", sans-serif' >60</text>
<line x1="319.6" y1="364.2" x2="325.0" y2="364.2" stroke="#000" stroke-width="1.3"/>
<text x="319.0" y="367.4" font-size="9" text-anchor="end" font-weight="normal" fill="#000" font-family='"Liberation Sans", sans-serif' >80</text>
<line x1="319.6" y1="338.9" x2="325.0" y2="338.9" stroke="#000" stroke-width="1.3"/>
<text x="319.0" y="342.1" font-size="9" text-anchor="end" font-weight="normal" fill="#000" font-family='"Liberation Sans", sans-serif' >100</text>
<line x1="348.6" y1="465.4" x2="348.6" y2="469.8" stroke="#000" stroke-width="1.6"/>
<line x1="396.1" y1="465.4" x2="396.1" y2="469.8" stroke="#000" stroke-width="1.6"/>
<line x1="443.5" y1="465.4" x2="443.5" y2="469.8" stroke="#000" stroke-width="1.6"/>
<line x1="491.2" y1="465.4" x2="491.2" y2="469.8" stroke="#000" stroke-width="1.6"/>
<text x="303.3" y="482.7" font-size="9" text-anchor="start" font-weight="normal" fill="#000" font-family='"Liberation Sans", sans-serif' >CD86</text>
<text x="348.6" y="481.8" font-size="8" text-anchor="middle" font-weight="normal" fill="#000" font-family='"Liberation Sans", sans-serif' >-</text>
<text x="396.1" y="481.8" font-size="8" text-anchor="middle" font-weight="normal" fill="#000" font-family='"Liberation Sans", sans-serif' >+</text>
<text x="443.5" y="481.8" font-size="8" text-anchor="middle" font-weight="normal" fill="#000" font-family='"Liberation Sans", sans-serif' >-</text>
<text x="491.2" y="481.8" font-size="8" text-anchor="middle" font-weight="normal" fill="#000" font-family='"Liberation Sans", sans-serif' >+</text>
<line x1="343.8" y1="487.5" x2="401" y2="487.5" stroke="#222" stroke-width="1.1"/>
<text x="372.4" y="499.0" font-size="8.5" text-anchor="middle" font-weight="normal" fill="#000" font-family='"Liberation Sans", sans-serif' >PB</text>
<line x1="437.7" y1="487.5" x2="495.4" y2="487.5" stroke="#222" stroke-width="1.1"/>
<text x="466.54999999999995" y="499.0" font-size="8.5" text-anchor="middle" font-weight="normal" fill="#000" font-family='"Liberation Sans", sans-serif' >BM</text>
<text x="0" y="0" font-size="8" font-family='"Liberation Sans", sans-serif' text-anchor="middle" transform="translate(295.2,391.1) rotate(-90)">% Chimerism in PB and BM</text>
<path d="M365.1,361.7 L365.1,354.2 L383,354.2 L383,361.7" fill="none" stroke="#333" stroke-width="1.3"/>
<text x="356.9" y="351.4" font-size="8.6" text-anchor="start" font-weight="normal" fill="#1a1a1a" font-family='"Liberation Sans", sans-serif' letter-spacing="-0.22">P = 0.071</text>
<path d="M459.6,359.7 L459.6,352.2 L477.4,352.2 L477.4,359.7" fill="none" stroke="#333" stroke-width="1.3"/>
<text x="451.8" y="349.4" font-size="8.6" text-anchor="start" font-weight="normal" fill="#1a1a1a" font-family='"Liberation Sans", sans-serif' letter-spacing="-0.22">P = 0.144</text>
<circle cx="348.6" cy="420.8" r="3.9" fill="#000" stroke="none" stroke-width="0"/>
<circle cx="348.6" cy="432.8" r="3.9" fill="#000" stroke="none" stroke-width="0"/>
<circle cx="338.2" cy="449.3" r="3.9" fill="#000" stroke="none" stroke-width="0"/>
<circle cx="348.6" cy="449.3" r="3.9" fill="#000" stroke="none" stroke-width="0"/>
<circle cx="359.0" cy="445.3" r="3.9" fill="#000" stroke="none" stroke-width="0"/>
<circle cx="348.6" cy="461.7" r="3.9" fill="#000" stroke="none" stroke-width="0"/>
<line x1="348.6" y1="437.4" x2="348.6" y2="449.0" stroke="#000" stroke-width="1.4"/>
<line x1="340.7" y1="437.4" x2="356.9" y2="437.4" stroke="#000" stroke-width="1.4"/>
<line x1="333.4" y1="443.2" x2="364.6" y2="443.2" stroke="#000" stroke-width="1.6"/>
<line x1="396.0" y1="404.3" x2="396.0" y2="428.2" stroke="#000" stroke-width="1.4"/>
<line x1="388.3" y1="404.3" x2="404.3" y2="404.3" stroke="#000" stroke-width="1.4"/>
<line x1="388.2" y1="428.2" x2="404.6" y2="428.2" stroke="#000" stroke-width="1.4"/>
<circle cx="385.9" cy="390.4" r="3.8" fill="none" stroke="#000" stroke-width="1.4"/>
<circle cx="406.5" cy="389.8" r="3.8" fill="none" stroke="#000" stroke-width="1.4"/>
<circle cx="395.8" cy="399.3" r="3.8" fill="none" stroke="#000" stroke-width="1.4"/>
<circle cx="395.9" cy="414.2" r="3.8" fill="none" stroke="#000" stroke-width="1.4"/>
<circle cx="396.1" cy="442.9" r="3.8" fill="none" stroke="#000" stroke-width="1.4"/>
<circle cx="396.1" cy="460.8" r="3.8" fill="none" stroke="#000" stroke-width="1.4"/>
<line x1="380.4" y1="416.1" x2="412.1" y2="416.1" stroke="#000" stroke-width="1.6"/>
<line x1="443.5" y1="433.5" x2="443.5" y2="446.0" stroke="#000" stroke-width="1.4"/>
<line x1="435.4" y1="433.5" x2="451.7" y2="433.5" stroke="#000" stroke-width="1.4"/>
<path d="M449.2,416.3 L453.2,422.7 L445.2,422.7 Z" fill="#000" stroke="none" stroke-width="0" stroke-linejoin="miter"/>
<path d="M437.7,422.5 L441.7,428.9 L433.7,428.9 Z" fill="#000" stroke="none" stroke-width="0" stroke-linejoin="miter"/>
<path d="M433.1,441.5 L437.1,447.9 L429.1,447.9 Z" fill="#000" stroke="none" stroke-width="0" stroke-linejoin="miter"/>
<path d="M443.5,441.5 L447.5,447.9 L439.5,447.9 Z" fill="#000" stroke="none" stroke-width="0" stroke-linejoin="miter"/>
<path d="M453.7,441.5 L457.7,447.9 L449.7,447.9 Z" fill="#000" stroke="none" stroke-width="0" stroke-linejoin="miter"/>
<path d="M443.5,460.2 L447.5,466.59999999999997 L439.5,466.59999999999997 Z" fill="#000" stroke="none" stroke-width="0" stroke-linejoin="miter"/>
<line x1="428.1" y1="439.8" x2="459.4" y2="439.8" stroke="#000" stroke-width="1.6"/>
<line x1="491.3" y1="401.3" x2="491.3" y2="429.3" stroke="#000" stroke-width="1.4"/>
<line x1="483.0" y1="401.3" x2="499.2" y2="401.3" stroke="#000" stroke-width="1.4"/>
<line x1="483.5" y1="429.3" x2="499.2" y2="429.3" stroke="#000" stroke-width="1.4"/>
<path d="M496.8,375.6 L500.6,381.90000000000003 L493.0,381.90000000000003 Z" fill="none" stroke="#000" stroke-width="1.3" stroke-linejoin="miter"/>
<path d="M485.3,383.4 L489.1,389.7 L481.5,389.7 Z" fill="none" stroke="#000" stroke-width="1.3" stroke-linejoin="miter"/>
<path d="M491.3,396.3 L495.1,402.6 L487.5,402.6 Z" fill="none" stroke="#000" stroke-width="1.3" stroke-linejoin="miter"/>
<path d="M491.3,416.1 L495.1,422.40000000000003 L487.5,422.40000000000003 Z" fill="none" stroke="#000" stroke-width="1.3" stroke-linejoin="miter"/>
<path d="M491.2,445.5 L495.0,451.8 L487.4,451.8 Z" fill="none" stroke="#000" stroke-width="1.3" stroke-linejoin="miter"/>
<path d="M491.2,460.6 L495.0,466.90000000000003 L487.4,466.90000000000003 Z" fill="none" stroke="#000" stroke-width="1.3" stroke-linejoin="miter"/>
<line x1="475.4" y1="415.5" x2="507.1" y2="415.5" stroke="#000" stroke-width="1.6"/></svg></body></html>
